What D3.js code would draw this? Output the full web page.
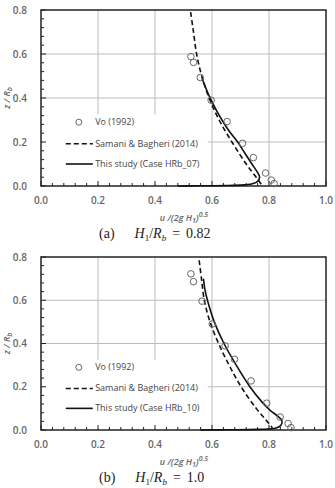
<!DOCTYPE html>
<html>
<head>
<meta charset="utf-8">
<script src="https://cdn.jsdelivr.net/npm/d3@7"></script>
<style>
  body { margin: 0; background: #fff; }
  svg { display: block; }
  .tick-label { font-family: "Open Sans", sans-serif; font-size: 10px; font-weight: 600; fill: #666; }
  .legend-text { font-family: "Open Sans", sans-serif; font-size: 9px; fill: #444; }
  .axis-title { font-family: "Open Sans", sans-serif; font-size: 9px; font-style: italic; font-weight: 600; fill: #666; }
  .caption { font-family: "Liberation Serif", serif; font-size: 14px; fill: #222; }
</style>
</head>
<body>
<div id="chart"></div>
<script>
'use strict';

// axis ticks
var xTicks = [0.0, 0.2, 0.4, 0.6, 0.8, 1.0];
var yTicks = [0.0, 0.2, 0.4, 0.6, 0.8];
var legendLabels = ['Vo (1992)', 'Samani & Bagheri (2014)'];

// (a) H1/Rb = 0.82
var voA = [[0.526, 0.588], [0.535, 0.562], [0.559, 0.493], [0.597, 0.390], [0.653, 0.293],
           [0.707, 0.194], [0.745, 0.129], [0.788, 0.059], [0.808, 0.027], [0.818, 0.011]];
var samaniA = [[0.525, 0.79], [0.535, 0.70], [0.546, 0.60], [0.564, 0.50], [0.590, 0.40],
               [0.625, 0.30], [0.670, 0.20], [0.720, 0.10], [0.755, 0.04], [0.775, 0.004]];
var studyA = [[0.565, 0.49], [0.580, 0.44], [0.597, 0.39], [0.615, 0.345], [0.635, 0.30],
              [0.660, 0.25], [0.690, 0.20], [0.715, 0.15], [0.740, 0.10], [0.758, 0.065],
              [0.767, 0.042], [0.762, 0.024], [0.745, 0.011], [0.710, 0.005], [0.650, 0.002],
              [0.550, 0.001], [0.480, 0.0]];

// (b) H1/Rb = 1.0
var voB = [[0.526, 0.722], [0.535, 0.686], [0.565, 0.596], [0.601, 0.490], [0.646, 0.389],
           [0.679, 0.327], [0.737, 0.227], [0.792, 0.124], [0.839, 0.060], [0.867, 0.030],
           [0.877, 0.011]];
var samaniB = [[0.555, 0.785], [0.563, 0.70], [0.573, 0.60], [0.593, 0.50], [0.623, 0.40],
               [0.660, 0.30], [0.702, 0.20], [0.755, 0.10], [0.790, 0.045], [0.812, 0.01]];
var studyB = [[0.570, 0.70], [0.575, 0.65], [0.584, 0.60], [0.608, 0.50], [0.642, 0.40],
              [0.685, 0.30], [0.733, 0.20], [0.775, 0.13], [0.805, 0.09], [0.830, 0.065],
              [0.845, 0.045], [0.842, 0.022], [0.825, 0.009], [0.760, 0.003], [0.660, 0.001],
              [0.560, 0.0]];

var myApp = {};
myApp.width = 335;
myApp.height = 488;
myApp.svg = d3.select('#chart').append('svg')
    .attr('width', myApp.width)
    .attr('height', myApp.height);

myApp.drawPanel = function(cfg)
{
    var svg = myApp.svg;
    var x = d3.scaleLinear().domain([0, 1]).range([41, 326]);
    var y = d3.scaleLinear().domain([0, 0.8]).range([cfg.bottom, cfg.top]);
    var g = svg.append('g');

    // grid
    g.selectAll('line.vgrid')
        .data(xTicks.slice(1, -1))
        .enter().append('line')
        .attr('x1', function(d){ return x(d); })
        .attr('x2', function(d){ return x(d); })
        .attr('y1', y(0.8)).attr('y2', y(0))
        .style('stroke', '#bdbdbd').style('stroke-width', 1);
    g.selectAll('line.hgrid')
        .data(yTicks.slice(1, -1))
        .enter().append('line')
        .attr('x1', x(0)).attr('x2', x(1))
        .attr('y1', function(d){ return y(d); })
        .attr('y2', function(d){ return y(d); })
        .style('stroke', '#bdbdbd').style('stroke-width', 1);

    // legend background hides the grid
    g.append('rect')
        .attr('x', x(0.008)).attr('y', y(0.325))
        .attr('width', x(0.585) - x(0.008))
        .attr('height', y(0.01) - y(0.325))
        .style('fill', '#fff');

    // minor ticks
    var minorX = d3.range(0, 1.0001, 0.04);
    g.selectAll('line.mx')
        .data(minorX)
        .enter().append('line')
        .attr('x1', function(d){ return x(d); })
        .attr('x2', function(d){ return x(d); })
        .attr('y1', y(0))
        .attr('y2', function(d, i){ return y(0) - (i % 5 === 0 ? 5 : 3); })
        .style('stroke', '#222').style('stroke-width', 1);
    var minorY = d3.range(0, 0.8001, 0.04);
    g.selectAll('line.my')
        .data(minorY)
        .enter().append('line')
        .attr('x1', x(0))
        .attr('x2', function(d, i){ return x(0) + (i % 5 === 0 ? 5 : 3); })
        .attr('y1', function(d){ return y(d); })
        .attr('y2', function(d){ return y(d); })
        .style('stroke', '#222').style('stroke-width', 1);

    // frame
    g.append('rect')
        .attr('x', x(0)).attr('y', y(0.8))
        .attr('width', x(1) - x(0)).attr('height', y(0) - y(0.8))
        .style('fill', 'none').style('stroke', '#222').style('stroke-width', 1.5);

    // tick labels
    g.selectAll('text.xl')
        .data(xTicks)
        .enter().append('text')
        .attr('class', 'tick-label')
        .attr('x', function(d){ return x(d); })
        .attr('y', cfg.bottom + 18)
        .attr('text-anchor', 'middle')
        .text(function(d){ return d3.format('.1f')(d); });
    g.selectAll('text.yl')
        .data(yTicks)
        .enter().append('text')
        .attr('class', 'tick-label')
        .attr('x', 27)
        .attr('y', function(d){ return y(d) + 3.5; })
        .attr('text-anchor', 'end')
        .text(function(d){ return d3.format('.1f')(d); });

    // axis titles
    var xt = g.append('text')
        .attr('class', 'axis-title')
        .attr('x', 184).attr('y', cfg.bottom + 35)
        .attr('text-anchor', 'middle');
    xt.append('tspan').text('u /(2g H');
    xt.append('tspan').attr('dy', 2).attr('font-size', '7px').text('1');
    xt.append('tspan').attr('dy', -2).text(')');
    xt.append('tspan').attr('dy', -4).attr('font-size', '7px').text('0.5');

    var yt = g.append('text')
        .attr('class', 'axis-title')
        .attr('transform', 'translate(9.5,' + ((cfg.top + cfg.bottom) / 2) + ') rotate(-90)')
        .attr('text-anchor', 'middle');
    yt.append('tspan').text('z / R');
    yt.append('tspan').attr('dy', 2).attr('font-size', '7px').text('b');

    // series
    var line = d3.line()
        .x(function(d){ return x(d[0]); })
        .y(function(d){ return y(d[1]); })
        .curve(d3.curveCatmullRom.alpha(0.5));

    g.append('path')
        .attr('d', line(cfg.samani))
        .style('fill', 'none').style('stroke', '#111')
        .style('stroke-width', 1.6).style('stroke-dasharray', '5,3');
    g.append('path')
        .attr('d', line(cfg.study))
        .style('fill', 'none').style('stroke', '#111')
        .style('stroke-width', 1.6);
    g.selectAll('circle.vo')
        .data(cfg.vo)
        .enter().append('circle')
        .attr('cx', function(d){ return x(d[0]); })
        .attr('cy', function(d){ return y(d[1]); })
        .attr('r', 3.3)
        .style('fill', 'none').style('stroke', '#666').style('stroke-width', 1);

    // legend
    var lx = x(0.087), tx = x(0.19);
    g.append('circle')
        .attr('cx', lx + 13).attr('cy', y(0.29)).attr('r', 3)
        .style('fill', 'none').style('stroke', '#666').style('stroke-width', 1);
    g.append('line')
        .attr('x1', lx).attr('x2', lx + 27)
        .attr('y1', y(0.192)).attr('y2', y(0.192))
        .style('stroke', '#111').style('stroke-width', 1.6).style('stroke-dasharray', '5,3');
    g.append('line')
        .attr('x1', lx).attr('x2', lx + 27)
        .attr('y1', y(0.1)).attr('y2', y(0.1))
        .style('stroke', '#111').style('stroke-width', 1.6);
    var labels = legendLabels.concat([cfg.studyLabel]);
    g.selectAll('text.leg')
        .data(labels)
        .enter().append('text')
        .attr('class', 'legend-text')
        .attr('x', tx)
        .attr('y', function(d, i){ return y([0.29, 0.192, 0.1][i]) + 3; })
        .text(function(d){ return d; });

    // caption
    var cap = g.append('text')
        .attr('class', 'caption')
        .attr('x', 99).attr('y', cfg.bottom + 52);
    cap.append('tspan').text(cfg.tag);
    cap.append('tspan').attr('dx', 20).attr('font-style', 'italic').text('H');
    cap.append('tspan').attr('dy', 3).attr('font-size', '9px').text('1');
    cap.append('tspan').attr('dy', -3).text('/');
    cap.append('tspan').attr('font-style', 'italic').text('R');
    cap.append('tspan').attr('dy', 3).attr('font-size', '9px').attr('font-style', 'italic').text('b');
    cap.append('tspan').attr('dy', -3).attr('dx', 6).text('=');
    cap.append('tspan').attr('dx', 6).text(cfg.ratio);
};

myApp.run = function()
{
    myApp.drawPanel({top: 10, bottom: 186, vo: voA, samani: samaniA, study: studyA,
                     studyLabel: 'This study (Case HRb_07)', tag: '(a)', ratio: '0.82'});
    myApp.drawPanel({top: 257, bottom: 430, vo: voB, samani: samaniB, study: studyB,
                     studyLabel: 'This study (Case HRb_10)', tag: '(b)', ratio: '1.0'});
};

myApp.run();
</script>
</body>
</html>
